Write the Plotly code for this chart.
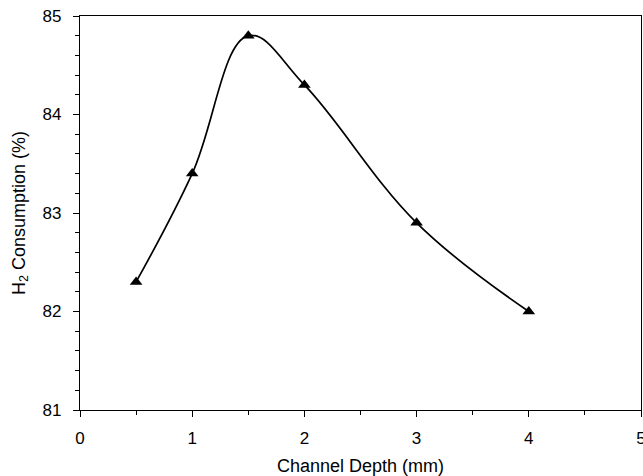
import plotly.graph_objects as go

depth = [0.5, 1, 1.5, 2, 3, 4]
consumption = [82.3, 83.4, 84.8, 84.3, 82.9, 82.0]

fig = go.Figure()
fig.add_trace(go.Scatter(
    x=depth, y=consumption, mode="lines+markers",
    line=dict(color="black", width=1.7, shape="spline", smoothing=1.1),
    marker=dict(symbol="triangle-up", size=11, color="black"),
    showlegend=False,
))

font = dict(family="Liberation Sans, Arial, sans-serif", color="black")
fig.update_layout(
    width=643, height=476,
    margin=dict(l=80, r=2, t=16, b=66, autoexpand=False),
    paper_bgcolor="white", plot_bgcolor="white",
    font=dict(size=17, **font),
)
fig.update_xaxes(
    range=[0, 5], tickvals=[0, 1, 2, 3, 4, 5], showgrid=False, zeroline=False,
    showline=True, linecolor="black", linewidth=1.3, mirror=True,
    ticks="outside", ticklen=6, tickcolor="black", tickwidth=1.2,
    minor=dict(tickvals=[0.5, 1.5, 2.5, 3.5, 4.5], ticks="outside", ticklen=4, tickcolor="black"),
    title=dict(text="Channel Depth (mm)", font=dict(size=18), standoff=14),
    tickfont=dict(size=17), ticklabelstandoff=6, ticklabeloverflow="allow",
    automargin=False,
)
fig.update_yaxes(
    range=[81, 85], tickvals=[81, 82, 83, 84, 85], showgrid=False, zeroline=False,
    showline=True, linecolor="black", linewidth=1.3, mirror=True,
    ticks="outside", ticklen=6, tickcolor="black", tickwidth=1.2,
    minor=dict(dtick=0.2, ticks="outside", ticklen=4, tickcolor="black"),
    title=dict(text="H<sub>2</sub> Consumption (%)", font=dict(size=18), standoff=12),
    tickfont=dict(size=17), ticklabelstandoff=8, automargin=False,
)

fig.write_html("out.html")
